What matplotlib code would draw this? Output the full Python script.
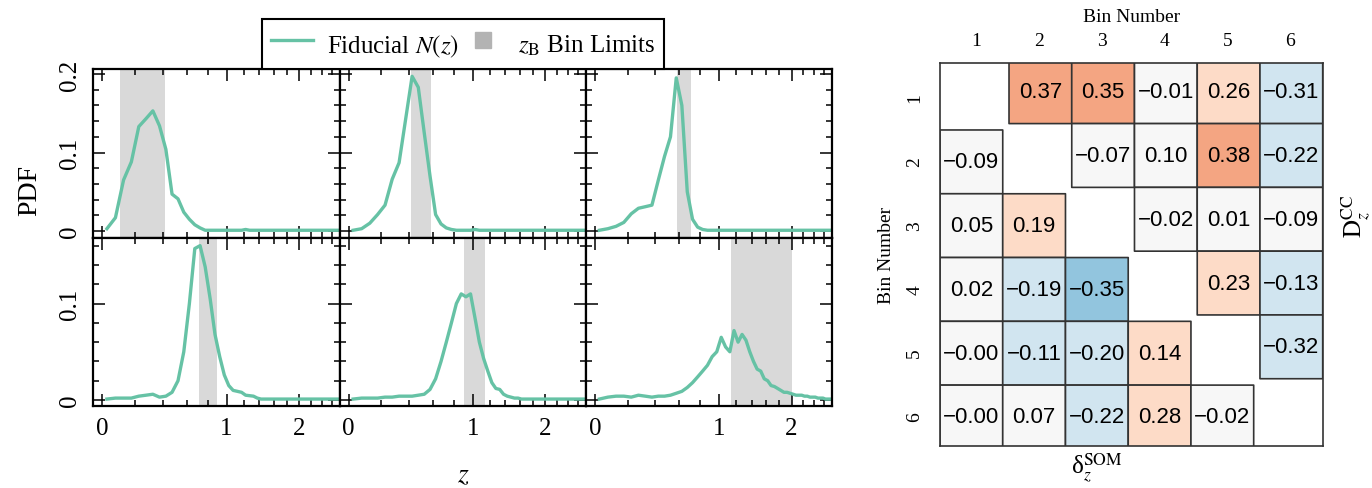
import numpy as np
import matplotlib
matplotlib.use("Agg")
import matplotlib.pyplot as plt
from matplotlib.colors import ListedColormap, BoundaryNorm
from matplotlib.lines import Line2D
from matplotlib.ticker import FixedLocator

plt.rcParams['font.family'] = ['Liberation Serif', 'DejaVu Serif']
plt.rcParams['mathtext.fontset'] = 'stix'

# ---------------- data ----------------
z_grid = np.round(np.arange(0.025, 2.8, 0.05), 3)   # 56 histogram centres

nz_bin1 = [0.003, 0.017, 0.065, 0.088, 0.133, 0.143, 0.153, 0.134, 0.104, 0.047,
           0.041, 0.024, 0.015, 0.008, 0.004, 0.001, 0.001, 0.001, 0.001, 0.001,
           0.001, 0.001, 0.001, 0.001, 0.002, 0.001, 0.001, 0.001, 0.001, 0.001,
           0.001, 0.001, 0.001, 0.001, 0.001, 0.001, 0.001, 0.001, 0.001, 0.001,
           0.001, 0.001, 0.001, 0.001, 0.001, 0.001, 0.001, 0.001, 0.001, 0.001,
           0.001, 0.001, 0.001, 0.001, 0.001, 0.001]
nz_bin2 = [0.001, 0.003, 0.010, 0.021, 0.033, 0.066, 0.087, 0.143, 0.197, 0.183,
           0.125, 0.070, 0.021, 0.009, 0.004, 0.002, 0.001, 0.001, 0.001, 0.001,
           0.002, 0.001, 0.001, 0.001, 0.001, 0.001, 0.001, 0.001, 0.001, 0.001,
           0.001, 0.001, 0.001, 0.001, 0.001, 0.001, 0.001, 0.001, 0.001, 0.001,
           0.001, 0.001, 0.001, 0.001, 0.001, 0.001, 0.001, 0.001, 0.001, 0.001,
           0.001, 0.001, 0.001, 0.001, 0.001, 0.001]
nz_bin3 = [0.001, 0.003, 0.006, 0.011, 0.022, 0.029, 0.031, 0.033, 0.065, 0.095,
           0.120, 0.195, 0.160, 0.050, 0.015, 0.005, 0.002, 0.001, 0.001, 0.001,
           0.001, 0.001, 0.001, 0.001, 0.001, 0.001, 0.001, 0.001, 0.001, 0.001,
           0.001, 0.001, 0.001, 0.001, 0.001, 0.001, 0.001, 0.001, 0.001, 0.001,
           0.001, 0.001, 0.001, 0.001, 0.001, 0.001, 0.001, 0.001, 0.001, 0.001,
           0.001, 0.001, 0.001, 0.001, 0.001, 0.001]
nz_bin4 = [0.001, 0.002, 0.002, 0.002, 0.004, 0.005, 0.006, 0.003, 0.004, 0.008,
           0.020, 0.050, 0.100, 0.157, 0.160, 0.138, 0.105, 0.068, 0.045, 0.026,
           0.015, 0.010, 0.009, 0.008, 0.005, 0.0045, 0.004, 0.002, 0.001, 0.001,
           0.001, 0.001, 0.001, 0.001, 0.001, 0.001, 0.001, 0.001, 0.001, 0.001,
           0.001, 0.001, 0.001, 0.001, 0.001, 0.001, 0.001, 0.001, 0.001, 0.001,
           0.001, 0.001, 0.001, 0.001, 0.001, 0.001]
nz_bin5 = [0.001, 0.002, 0.002, 0.002, 0.003, 0.003, 0.004, 0.004, 0.004, 0.005,
           0.006, 0.011, 0.022, 0.040, 0.060, 0.080, 0.100, 0.110, 0.107, 0.110,
           0.085, 0.060, 0.043, 0.030, 0.018, 0.012, 0.011, 0.006, 0.004, 0.003,
           0.002, 0.002, 0.001, 0.001, 0.001, 0.001, 0.001, 0.001, 0.001, 0.001,
           0.001, 0.001, 0.001, 0.001, 0.001, 0.001, 0.001, 0.001, 0.001, 0.001,
           0.001, 0.001, 0.001, 0.001, 0.001, 0.001]
nz_bin6 = [0.001, 0.003, 0.004, 0.004, 0.003, 0.005, 0.004, 0.003, 0.004, 0.004,
           0.005, 0.007, 0.009, 0.013, 0.018, 0.024, 0.030, 0.036, 0.045, 0.050,
           0.065, 0.055, 0.050, 0.072, 0.060, 0.068, 0.062, 0.050, 0.040, 0.032,
           0.030, 0.022, 0.020, 0.015, 0.014, 0.012, 0.010, 0.008, 0.008, 0.007,
           0.006, 0.005, 0.005, 0.005, 0.004, 0.004, 0.003, 0.003, 0.003, 0.002,
           0.002, 0.002, 0.001, 0.001, 0.001, 0.001]
nz_all = [nz_bin1, nz_bin2, nz_bin3, nz_bin4, nz_bin5, nz_bin6]

zb_lo = [0.10, 0.42, 0.58, 0.71, 0.90, 1.14]
zb_hi = [0.42, 0.58, 0.71, 0.90, 1.14, 2.00]

nan = np.nan
# upper triangle: D_z^CC ; lower triangle: delta_z^SOM  (row = bin i, col = bin j)
dz_cc = [[nan, 0.37, 0.35, -0.01, 0.26, -0.31],
         [nan, nan, -0.07, 0.10, 0.38, -0.22],
         [nan, nan, nan, -0.02, 0.01, -0.09],
         [nan, nan, nan, nan, 0.23, -0.13],
         [nan, nan, nan, nan, nan, -0.32],
         [nan, nan, nan, nan, nan, nan]]
dz_som = [[nan, nan, nan, nan, nan, nan],
          [-0.09, nan, nan, nan, nan, nan],
          [0.05, 0.19, nan, nan, nan, nan],
          [0.02, -0.19, -0.35, nan, nan, nan],
          [-0.0, -0.11, -0.20, 0.14, nan, nan],
          [-0.0, 0.07, -0.22, 0.28, -0.02, nan]]
bin_labels = ['1', '2', '3', '4', '5', '6']

# ---------------- figure ----------------
W, H = 1372, 489
fig = plt.figure(figsize=(W / 100, H / 100), dpi=100)

def fx(px):
    return px / W

def fy(py):
    return 1 - py / H

line_col = '#66c2a5'
band_col = '#d9d9d9'

def fwd(z):
    return np.log1p(np.asarray(z, dtype=float))

def inv(t):
    return np.expm1(np.asarray(t, dtype=float))

gs = fig.add_gridspec(2, 3, left=fx(93.3), right=fx(832), top=fy(70),
                      bottom=fy(407.3), wspace=0, hspace=0)
ylims = [(-0.0084, 0.2063), (-0.0065, 0.1683)]
for k in range(6):
    r, c = divmod(k, 3)
    ax = fig.add_subplot(gs[r, c])
    ax.set_xscale('function', functions=(fwd, inv))
    ax.axvspan(zb_lo[k], zb_hi[k], color=band_col, lw=0, zorder=0)
    ax.plot(z_grid, nz_all[k], color=line_col, lw=2.4, zorder=2)
    ax.set_xlim(-0.05, 2.76)
    ax.set_ylim(*ylims[r])
    ax.xaxis.set_major_locator(FixedLocator([0, 1, 2]))
    ax.xaxis.set_minor_locator(FixedLocator([0.2, 0.4, 0.6, 0.8, 1.2, 1.4, 1.6,
                                             1.8, 2.2, 2.4, 2.6]))
    if r == 0:
        ax.yaxis.set_major_locator(FixedLocator([0, 0.1, 0.2]))
        ylabs = ['0', '0.1', '0.2']
    else:
        ax.yaxis.set_major_locator(FixedLocator([0, 0.1]))
        ylabs = ['0', '0.1']
    ax.yaxis.set_minor_locator(FixedLocator([0.02, 0.04, 0.06, 0.08, 0.12,
                                             0.14, 0.16, 0.18]))
    ax.tick_params(which='both', direction='in', top=True, right=True,
                   width=1.1, labelsize=18)
    ax.tick_params(which='major', length=8.5)
    ax.tick_params(which='minor', length=4.5)
    ax.tick_params(axis='y', pad=9)
    ax.tick_params(axis='x', pad=8)
    for s in ax.spines.values():
        s.set_linewidth(1.6)
    if c == 0:
        ax.set_yticklabels(ylabs, rotation=90, va='center')
    else:
        ax.tick_params(labelleft=False)
    if r == 1:
        ax.set_xticklabels(['0', '1', '2'])
    else:
        ax.tick_params(labelbottom=False)

handles = [Line2D([], [], color=line_col, lw=2.4),
           Line2D([], [], marker='s', color='#b3b3b3', ls='none', markersize=12)]
leg = fig.legend(handles, ['Fiducial $N(z)$', r'$z_{\rm B}$ Bin Limits'],
                 loc='lower center', bbox_to_anchor=(fx(463), fy(69.5)), ncol=2,
                 frameon=True, fancybox=False, edgecolor='black', framealpha=1,
                 fontsize=18, borderpad=0.35, columnspacing=0.1,
                 handlelength=1.7, handletextpad=0.55, handleheight=1.6,
                 borderaxespad=0)
leg.get_frame().set_linewidth(1.5)

fig.text(fx(30), fy(190), 'PDF', rotation=90, fontsize=20, ha='center', va='center')
fig.text(fx(463), fy(476), '$z$', fontsize=20, ha='center', va='center')

# ---------------- correlation matrix ----------------
colors9 = ['#2166ac', '#4393c3', '#92c5de', '#d1e5f0', '#f7f7f7',
           '#fddbc7', '#f4a582', '#d6604d', '#b2182b']
cmap = ListedColormap(colors9)
norm = BoundaryNorm([-1, -0.78, -0.56, -0.33, -0.105, 0.105, 0.33, 0.56, 0.78, 1],
                    cmap.N)

axh = fig.add_axes([fx(940), fy(446.7), fx(1322.7) - fx(940), (446.7 - 64) / H])
U = np.ma.masked_invalid(np.array(dz_cc))
L = np.ma.masked_invalid(np.array(dz_som))
edges = np.arange(7)
axh.pcolor(edges + 0.1, edges - 0.05, U, cmap=cmap, norm=norm,
           edgecolors='#333333', linewidth=1.2)
axh.pcolor(edges, edges + 0.05, L, cmap=cmap, norm=norm,
           edgecolors='#333333', linewidth=1.2)

def fmt(v):
    return f"{v:.2f}".replace('-', '\u2212')

for i in range(6):
    for j in range(6):
        v = dz_cc[i][j]
        if not np.isnan(v):
            axh.text(j + 0.6, i + 0.45, fmt(v), ha='center', va='center',
                     fontsize=16, family=['Liberation Sans', 'DejaVu Sans'])
        v = dz_som[i][j]
        if not np.isnan(v):
            axh.text(j + 0.5, i + 0.55, fmt(v), ha='center', va='center',
                     fontsize=16, family=['Liberation Sans', 'DejaVu Sans'])

axh.set_xlim(0, 6.1)
axh.set_ylim(6, 0)
axh.xaxis.tick_top()
axh.xaxis.set_label_position('top')
axh.set_xticks(np.arange(6) + 0.58)
axh.set_xticklabels(bin_labels)
axh.set_yticks(np.arange(6) + 0.54)
axh.set_yticklabels(bin_labels, rotation=90, va='center')
axh.tick_params(length=0, labelsize=14)
axh.tick_params(axis='x', pad=10)
axh.tick_params(axis='y', pad=12)
axh.set_xlabel('Bin Number', fontsize=14, labelpad=8)
axh.set_ylabel('Bin Number', fontsize=14, labelpad=8)
for s in axh.spines.values():
    s.set_linewidth(1.2)
    s.set_color('#333333')

fig.text(fx(1356), fy(216), r'$\mathrm{D}_z^{\mathrm{CC}}$', rotation=90,
         fontsize=18, ha='center', va='center')
fig.text(fx(1097), fy(468), r'δ$_z^{\mathrm{SOM}}$', fontsize=18,
         ha='center', va='center')

fig.savefig('out.png', dpi=100)
